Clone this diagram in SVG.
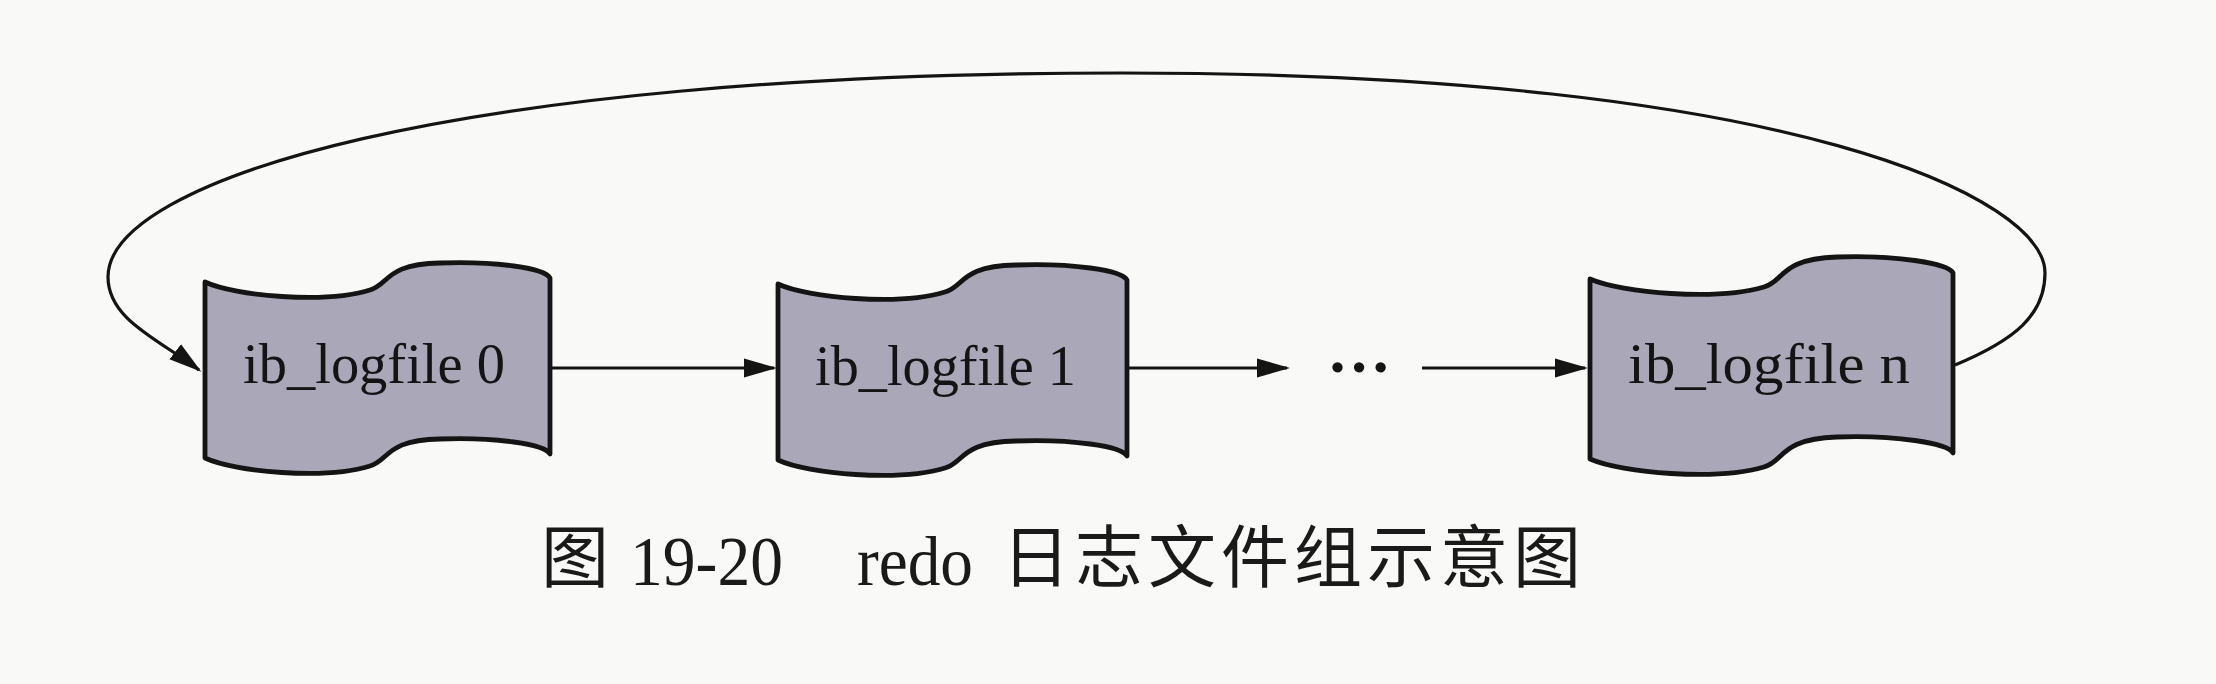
<svg xmlns="http://www.w3.org/2000/svg" width="2216" height="684" viewBox="0 0 2216 684">
<style>
.tape{fill:#a9a7b8;stroke:#141414;stroke-width:4.8;stroke-linejoin:round}
.lbl{font-family:"Liberation Serif","Times New Roman",serif;font-size:58px;fill:#141414}
.conn{fill:none;stroke:#141414;stroke-width:3.2}
.cap{font-family:"Liberation Serif","Noto Sans CJK SC",serif;font-size:70px;fill:#1a1a1a}
.capcjk{font-family:"Noto Sans CJK SC","Noto Sans CJK JP",sans-serif;font-size:68px;fill:#1a1a1a;letter-spacing:5px}
</style>
<defs>
<marker id="arr" markerUnits="userSpaceOnUse" markerWidth="36" markerHeight="22" refX="30" refY="10" orient="auto">
<path d="M0,0.5 L33,10 L0,19.5 Z" fill="#141414"/>
</marker>
</defs>
<rect x="0" y="0" width="2216" height="684" fill="#f9f9f7"/>

<g id="connectors">
<path class="conn" d="M552,368 L774,368" marker-end="url(#arr)"/>
<path class="conn" d="M1129,368 L1287,368" marker-end="url(#arr)"/>
<path class="conn" d="M1422,368 L1585,368" marker-end="url(#arr)"/>
<path class="conn" d="M1955,365 C2015,340 2045,315 2045,273 C2045,200 1800,73 1121,73 C450,73 108,180 108,277 C108,320 160,340 199,370" marker-end="url(#arr)"/>
</g>

<g id="node-0">
<path class="tape" d="M205,282 C235,296 325,304 370,290 C390,284 385,264 440,263 C495,261 545,268 550,278 L550,454 C545,444 495,437 440,439 C385,440 390,460 370,466 C325,480 235,472 205,458 Z"/>
<text class="lbl" x="243" y="383" textLength="262" lengthAdjust="spacingAndGlyphs">ib_logfile 0</text>
</g>

<g id="node-1">
<path class="tape" d="M778,284 C808,298 899,306 945,292 C965,286 960,266 1016,265 C1071,263 1122,270 1127,280 L1127,456 C1122,446 1071,439 1016,441 C960,442 965,462 945,468 C899,482 808,474 778,460 Z"/>
<text class="lbl" x="815" y="385" textLength="261" lengthAdjust="spacingAndGlyphs">ib_logfile 1</text>
</g>

<g id="ellipsis">
<text class="lbl" x="1359" y="372" text-anchor="middle" style="font-size:64px;font-weight:bold">…</text>
</g>

<g id="node-n">
<path class="tape" d="M1590,279 C1622,293 1716,301 1764,287 C1785,281 1779,259 1837,257 C1895,255 1948,263 1953,273 L1953,453 C1948,443 1895,435 1837,437 C1779,439 1785,461 1764,467 C1716,481 1622,473 1590,459 Z"/>
<text class="lbl" x="1628" y="383" textLength="282" lengthAdjust="spacingAndGlyphs">ib_logfile n</text>
</g>

<g id="caption">
<text class="capcjk" x="541" y="582" style="letter-spacing:0">图</text>
<text class="cap" x="630" y="585" textLength="153" lengthAdjust="spacingAndGlyphs">19-20</text>
<text class="cap" x="857" y="585" textLength="116" lengthAdjust="spacingAndGlyphs">redo</text>
<text class="capcjk" x="1002" y="582">日志文件组示意图</text>
</g>
</svg>
